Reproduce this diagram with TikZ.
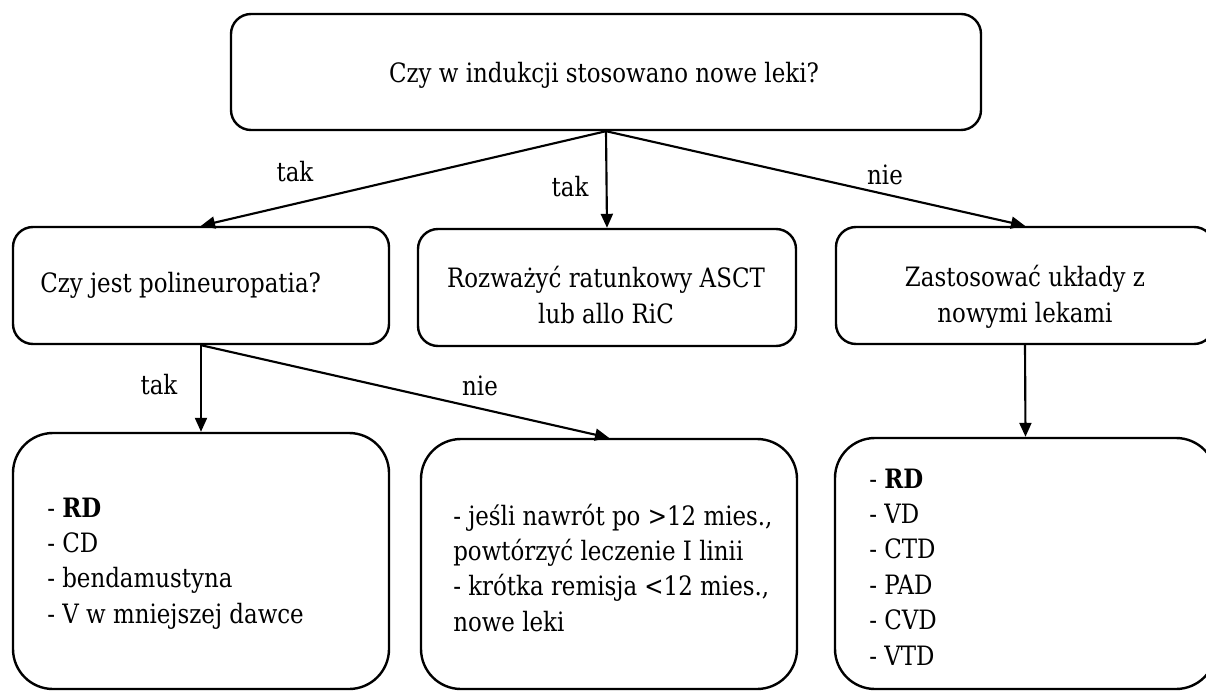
\documentclass[tikz,border=0pt]{standalone}
\usepackage{fontspec}
\setmainfont{DejaVu Serif}[FakeStretch=0.86]
\usetikzlibrary{arrows.meta,fit}
\begin{document}
\begin{tikzpicture}[x=0.75pt,y=-0.75pt,
  box/.style={draw,line width=1.8pt,inner sep=0pt,rounded corners=15pt},
  bigbox/.style={box,rounded corners=30pt},
  arr/.style={line width=1.6pt,-{Triangle[length=10.5pt,width=9pt]}},
  txt/.style={inner sep=0pt,font=\fontsize{20}{26.6}\selectfont},
  lbl/.style={txt,anchor=base}]
\useasboundingbox (0,0) rectangle (1206,691);
% boxes
\node[box,fit={(231,14)(981,130)}] (q) {};
\node[box,fit={(13,227)(389,344)}] (l2) {};
\node[box,fit={(418,229)(796,346)}] (m2) {};
\node[box,fit={(836,227)(1214,344)}] (r2) {};
\node[bigbox,fit={(13,433)(389,689)}] (l3) {};
\node[bigbox,fit={(421,439)(797,689)}] (m3) {};
\node[bigbox,fit={(835,438)(1216,689)}] (r3) {};
% texts
\node[txt,anchor=base] (qt) at (604,83) {Czy w indukcji stosowano nowe leki?};
\node[txt,anchor=base west] (l2t) at (40,293) {Czy jest polineuropatia?};
\node[txt,anchor=base] (m2t) at (606,288) {\begin{tabular}[t]{@{}c@{}}Rozważyć ratunkowy ASCT\\lub allo RiC\end{tabular}};
\node[txt,anchor=base] (r2t) at (1025,287) {\begin{tabular}[t]{@{}c@{}}Zastosować układy z\\nowymi lekami\end{tabular}};
\node[txt,anchor=base west] (l3t) at (47,517) {\begin{tabular}[t]{@{}l@{}}- \textbf{RD}\\- CD\\- bendamustyna\\- V w mniejszej dawce\end{tabular}};
\node[txt,anchor=base west] (m3t) at (453,525) {\begin{tabular}[t]{@{}l@{}}- jeśli nawrót po >12 mies.,\\powtórzyć leczenie I linii\\- krótka remisja <12 mies.,\\nowe leki\end{tabular}};
\node[txt,anchor=base west] (r3t) at (869,488) {\begin{tabular}[t]{@{}l@{}}- \textbf{RD}\\- VD\\- CTD\\- PAD\\- CVD\\- VTD\end{tabular}};
% connectors
\draw[arr] (q.south) -- (l2.north);
\draw[arr] (q.south) -- (m2.north);
\draw[arr] (q.south) -- (r2.north);
\draw[arr] (l2.south) -- (l3.north);
\draw[arr] (l2.south) -- (m3.north);
\draw[arr] (r2.south) -- (r3.north);
% labels
\node[lbl] (t1) at (295,182) {tak};
\node[lbl] (t2) at (570,197) {tak};
\node[lbl] (n1) at (885,185) {nie};
\node[lbl] (t3) at (159,394) {tak};
\node[lbl] (n2) at (480,395) {nie};
\end{tikzpicture}
\end{document}
